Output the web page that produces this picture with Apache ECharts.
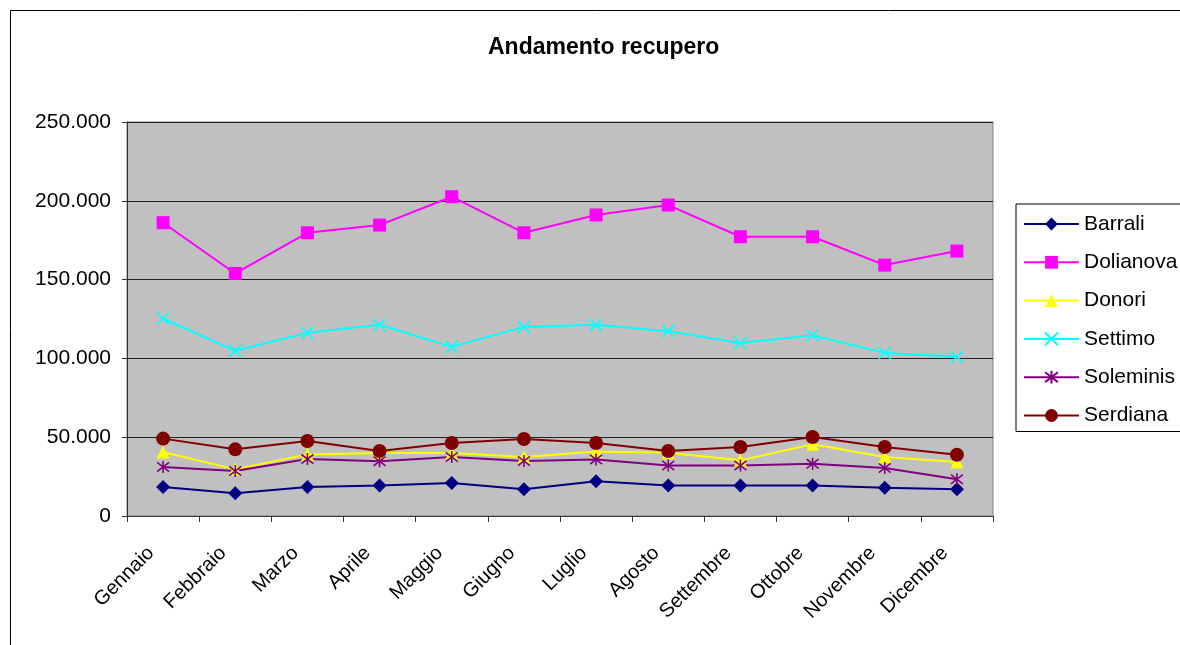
<!DOCTYPE html>
<html>
<head>
<meta charset="utf-8">
<script src="https://cdn.jsdelivr.net/npm/echarts@6/dist/echarts.min.js"></script>
<style>
html,body{margin:0;padding:0;background:#fff;}
#chart{width:1180px;height:645px;}
</style>
</head>
<body>
<div id="chart"></div>
<script>
var categories = ['Gennaio','Febbraio','Marzo','Aprile','Maggio','Giugno','Luglio','Agosto','Settembre','Ottobre','Novembre','Dicembre'];
var barrali   = [18400, 14500, 18400, 19400, 20900, 16900, 22000, 19400, 19400, 19400, 18000, 16900];
var dolianova = [186100, 153900, 179700, 184600, 202600, 179700, 191000, 197300, 177200, 177200, 159200, 168100];
var donori    = [40600, 29600, 39100, 40000, 40000, 37400, 41000, 40200, 35300, 45500, 37400, 34200];
var settimo   = [125300, 104800, 116200, 121300, 107300, 120000, 121300, 117300, 109800, 114700, 103500, 101000];
var soleminis = [31100, 28500, 36100, 34700, 37400, 34900, 35800, 32100, 32100, 33200, 30400, 23300];
var serdiana  = [49100, 42300, 47600, 41200, 46300, 48900, 46300, 41200, 43800, 50100, 43800, 38900];
var yTicks = [0, 50000, 100000, 150000, 200000, 250000];

var FONT = "'Liberation Sans', Arial, sans-serif";
function fmt(v){
  return String(v).replace(/\B(?=(\d{3})+(?!\d))/g, '.');
}
var X_PATH = 'path://M0,0L10,10M10,0L0,10';
var STAR_PATH = 'path://M0,0L10,10M10,0L0,10M5,-1.5L5,11.5';

function mk(name, data, color, symbol, size, stroke){
  var s = {
    name: name,
    type: 'line',
    data: data,
    symbol: symbol,
    symbolSize: size,
    showAllSymbol: true,
    lineStyle: {color: color, width: 2},
    itemStyle: {color: color},
    emphasis: {disabled: true},
    z: 2
  };
  if (stroke) {
    s.itemStyle = {color: 'rgba(0,0,0,0)', borderColor: color, borderWidth: 1.6};
  }
  return s;
}

var chart = echarts.init(document.getElementById('chart'), null, {renderer: 'canvas'});
chart.setOption({
  animation: false,
  backgroundColor: '#ffffff',
  textStyle: {fontFamily: FONT},
  title: {
    text: 'Andamento recupero',
    left: 483,
    top: 31,
    textStyle: {fontFamily: FONT, fontSize: 23, fontWeight: 'bold', color: '#000'}
  },
  graphic: [{
    type: 'rect',
    shape: {x: 10.5, y: 10.5, width: 1400, height: 1000},
    style: {fill: 'none', stroke: '#000', lineWidth: 1},
    silent: true
  }],
  legend: {
    orient: 'vertical',
    left: 1016,
    top: 204,
    padding: [9, 20, 5, 7],
    itemWidth: 55,
    itemHeight: 16,
    itemGap: 16.3,
    borderColor: '#000',
    borderWidth: 1,
    backgroundColor: '#fff',
    textStyle: {fontFamily: FONT, fontSize: 21, color: '#000', lineHeight: 22},
    data: ['Barrali','Dolianova','Donori','Settimo','Soleminis','Serdiana']
  },
  grid: {
    left: 127, right: 187, top: 122, bottom: 129,
    show: true,
    backgroundColor: '#C0C0C0',
    borderColor: '#808080',
    borderWidth: 1
  },
  xAxis: {
    type: 'category',
    data: categories,
    boundaryGap: true,
    axisLine: {lineStyle: {color: '#333', width: 1}},
    axisTick: {show: true, length: 6, interval: 0, lineStyle: {color: '#333'}},
    axisLabel: {rotate: 45, interval: 0, margin: 36, align: 'right', verticalAlign: 'bottom', padding: [0, 7, 0, 0], fontFamily: FONT, fontSize: 20, color: '#000'},
    splitLine: {show: false}
  },
  yAxis: {
    type: 'value',
    min: yTicks[0],
    max: yTicks[yTicks.length - 1],
    interval: yTicks[1] - yTicks[0],
    axisLine: {show: true, lineStyle: {color: '#333', width: 1}},
    axisTick: {show: true, length: 5, lineStyle: {color: '#333'}},
    axisLabel: {margin: 16, fontFamily: FONT, fontSize: 21, color: '#000', formatter: fmt},
    splitLine: {show: true, lineStyle: {color: '#222', width: 1}}
  },
  series: [
    mk('Barrali', barrali, '#000080', 'diamond', 14),
    mk('Dolianova', dolianova, '#FF00FF', 'rect', 13),
    mk('Donori', donori, '#FFFF00', 'triangle', 13),
    mk('Settimo', settimo, '#00FFFF', X_PATH, 12, true),
    mk('Soleminis', soleminis, '#800080', STAR_PATH, 12, true),
    mk('Serdiana', serdiana, '#800000', 'circle', 14)
  ]
});
</script>
</body>
</html>
